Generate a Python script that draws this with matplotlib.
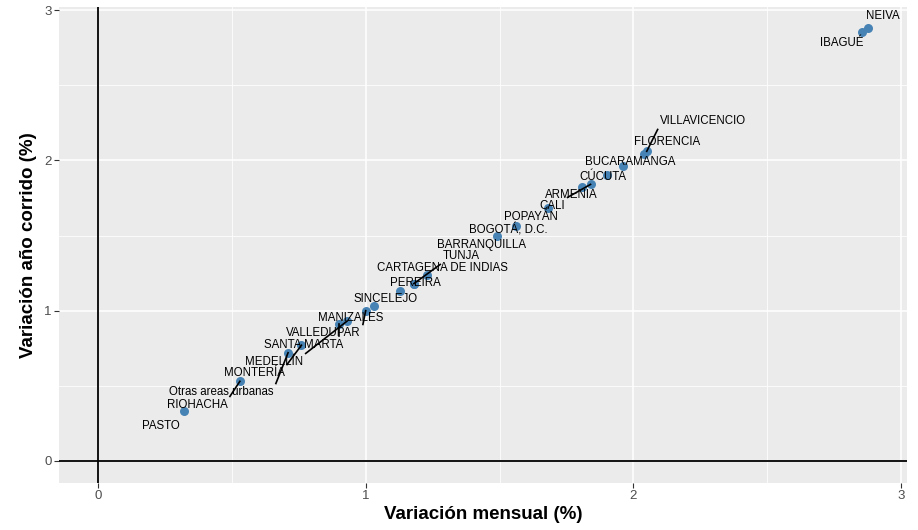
import numpy as np
import matplotlib
matplotlib.use('Agg')
import matplotlib.pyplot as plt

# ciudades, variación mensual (x) y año corrido (y)
cities = ['PASTO', 'RIOHACHA', 'Otras areas urbanas', 'MONTERÍA', 'SANTA MARTA',
          'MEDELLÍN', 'VALLEDUPAR', 'MANIZALES', 'SINCELEJO', 'PEREIRA', 'TUNJA',
          'CARTAGENA DE INDIAS', 'BARRANQUILLA', 'BOGOTÁ, D.C.', 'POPAYÁN',
          'ARMENIA', 'CALI', 'CÚCUTA', 'BUCARAMANGA', 'FLORENCIA',
          'VILLAVICENCIO', 'IBAGUÉ', 'NEIVA']
var_mensual = [0.32, 0.53, 0.71, 0.76, 0.90, 0.93, 1.00, 1.03, 1.13, 1.18, 1.18,
               1.23, 1.49, 1.56, 1.68, 1.81, 1.84, 1.90, 1.96, 2.04, 2.05, 2.855, 2.877]
var_anual = [0.33, 0.53, 0.72, 0.77, 0.91, 0.93, 1.00, 1.03, 1.13, 1.18, 1.18,
             1.24, 1.50, 1.56, 1.68, 1.82, 1.84, 1.90, 1.96, 2.04, 2.06, 2.855, 2.879]

# posiciones de las etiquetas (tipo ggrepel) y si llevan segmento
label_x = [0.235, 0.370, 0.460, 0.583, 0.770, 0.658, 0.841, 0.945, 1.076, 1.185, 1.357,
           1.286, 1.431, 1.532, 1.618, 1.768, 1.697, 1.887, 1.988, 2.126, 2.261, 2.780, 2.933]
label_y = [0.233, 0.373, 0.459, 0.585, 0.772, 0.659, 0.852, 0.951, 1.078, 1.184, 1.364,
           1.284, 1.437, 1.537, 1.623, 1.770, 1.697, 1.890, 1.989, 2.122, 2.262, 2.781, 2.961]
segment = [False, True, True, True, True, True, True, False, False, False, True,
           False, False, False, False, False, True, False, False, False, True, False, False]

plt.rcParams['font.family'] = ['Liberation Sans', 'DejaVu Sans']

fig = plt.figure(figsize=(9.18, 5.30), dpi=100)
ax = fig.add_axes([0.0648, 0.0894, 0.9228, 0.8976])
ax.set_facecolor('#EBEBEB')

# limites como ggplot: expansion del 5%
lo = min(0, min(var_mensual))
hi = max(var_mensual)
r = hi - lo
ax.set_xlim(lo - 0.05 * r, hi + 0.05 * r)
ax.set_ylim(lo - 0.05 * r, hi + 0.05 * r)

ticks = [0, 1, 2, 3]
ax.set_xticks(ticks)
ax.set_yticks(ticks)
ax.set_xticks([0.5, 1.5, 2.5], minor=True)
ax.set_yticks([0.5, 1.5, 2.5], minor=True)
ax.grid(which='major', color='white', linewidth=1.1)
ax.grid(which='minor', color='white', linewidth=0.55)
ax.set_axisbelow(True)
for s in ax.spines.values():
    s.set_visible(False)
ax.tick_params(which='major', length=3.5, width=0.8, color='#333333',
               labelcolor='#4D4D4D', labelsize=9.5, pad=2)
ax.tick_params(which='minor', length=0)

ax.axvline(0, color='black', linewidth=1.3, zorder=1.5)
ax.axhline(0, color='black', linewidth=1.3, zorder=1.5)

ax.scatter(var_mensual, var_anual, s=42, color='#4682B4', linewidths=0, zorder=3)

texts = []
for name, lx, ly in zip(cities, label_x, label_y):
    t = ax.text(lx, ly, name, ha='center', va='center', fontsize=8.3, zorder=5)
    texts.append(t)

fig.canvas.draw()
inv = ax.transData.inverted()
pad = 2.5
for t, px, py, seg in zip(texts, var_mensual, var_anual, segment):
    if not seg:
        continue
    bb = t.get_window_extent()
    dx, dy = ax.transData.transform((px, py))
    nx = min(max(dx, bb.x0 - pad), bb.x1 + pad)
    ny = min(max(dy, bb.y0 - pad), bb.y1 + pad)
    (ex, ey) = inv.transform((nx, ny))
    ax.plot([px, ex], [py, ey], color='black', linewidth=1.2, zorder=4)

ax.set_xlabel('Variación mensual (%)', fontsize=13.5, fontweight='bold', labelpad=3)
ax.set_ylabel('Variación año corrido (%)', fontsize=13.5, fontweight='bold', labelpad=5)

fig.savefig('out.png', dpi=100)
